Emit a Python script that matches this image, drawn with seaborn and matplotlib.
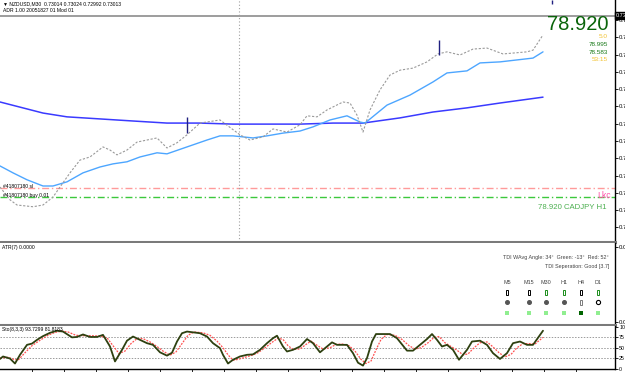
import matplotlib
matplotlib.use("Agg")
import matplotlib.pyplot as plt
import seaborn as sns
import pandas as pd
from matplotlib.patches import Rectangle

sns.set_style("white")
plt.rcParams['font.family'] = ['Liberation Sans', 'DejaVu Sans']

# ---------------- data (x in bar-position units, prices) -------------
slow_x = [0, 43, 67, 100, 133, 167, 200, 233, 267, 300, 333, 363, 400, 433, 467, 500, 543]
slow_p = [0.72763, 0.72731, 0.72720, 0.72714, 0.72708, 0.72702, 0.72702, 0.72699, 0.72699,
          0.72699, 0.72702, 0.72702, 0.72717, 0.72734, 0.72746, 0.72760, 0.72777]

fast_x = [0, 13, 27, 43, 53, 67, 83, 100, 113, 127, 140, 157, 167, 187, 207, 220, 233, 253,
          267, 283, 300, 313, 330, 347, 360, 365, 387, 410, 433, 447, 467, 480, 500, 533, 543]
fast_p = [0.72578, 0.72558, 0.72538, 0.72520, 0.72520, 0.72532, 0.72558, 0.72575, 0.72584,
          0.72590, 0.72604, 0.72616, 0.72613, 0.72633, 0.72653, 0.72665, 0.72665, 0.72659,
          0.72665, 0.72673, 0.72679, 0.72691, 0.72711, 0.72723, 0.72705, 0.72702, 0.72754,
          0.72783, 0.72821, 0.72847, 0.72853, 0.72876, 0.72879, 0.72890, 0.72908]

close_x = [0, 10, 17, 33, 43, 53, 60, 70, 80, 90, 103, 110, 117, 127, 137, 147, 157, 167, 177,
           187, 200, 220, 240, 250, 263, 273, 287, 300, 307, 317, 327, 343, 350, 357, 363, 370,
           380, 390, 400, 413, 427, 438, 447, 460, 473, 487, 503, 527, 533, 543]
close_p = [0.72517, 0.72480, 0.72465, 0.72460, 0.72465, 0.72488, 0.72517, 0.72558, 0.72595,
           0.72604, 0.72633, 0.72624, 0.72610, 0.72624, 0.72647, 0.72653, 0.72659, 0.72630,
           0.72645, 0.72668, 0.72702, 0.72711, 0.72668, 0.72653, 0.72662, 0.72685, 0.72676,
           0.72697, 0.72723, 0.72720, 0.72740, 0.72763, 0.72760, 0.72725, 0.72676, 0.72740,
           0.72798, 0.72841, 0.72855, 0.72861, 0.72879, 0.72902, 0.72908, 0.72899, 0.72916,
           0.72919, 0.72902, 0.72908, 0.72913, 0.72957]

current_price = 0.73013
sl_price = 0.72514
entry_price = 0.72487
arrow_x = [187, 439, 552]
arrow_lo = [0.72673, 0.72899, 0.73046]
arrow_hi = [0.72720, 0.72942, 0.73058]
vline_x = 239

price_ticks = [0.7300, 0.7295, 0.7290, 0.7285, 0.7280, 0.7275, 0.7270, 0.7265, 0.7260,
               0.7255, 0.7250, 0.7245, 0.7240]

sto_x = [0, 3, 10, 15, 20, 27, 32, 37, 43, 50, 57, 63, 72, 77, 83, 90, 97, 103, 110, 115, 122,
         127, 133, 140, 147, 153, 160, 167, 172, 177, 182, 187, 200, 207, 213, 220, 223, 228,
         233, 240, 247, 253, 260, 267, 273, 277, 283, 287, 293, 300, 307, 313, 320, 327, 332,
         337, 347, 353, 358, 363, 367, 372, 376, 390, 397, 407, 413, 420, 427, 432, 437, 442,
         447, 453, 459, 467, 472, 480, 487, 493, 500, 507, 513, 520, 527, 533, 543]
sto_main = [23, 29, 24, 12, 33, 57, 60, 69, 78, 86, 91, 89, 75, 76, 82, 76, 76, 81, 53, 17, 45,
            67, 77, 69, 61, 57, 39, 31, 38, 65, 85, 89, 85, 77, 61, 49, 33, 12, 21, 29, 33, 34,
            45, 61, 73, 79, 53, 41, 45, 53, 71, 61, 39, 53, 63, 57, 57, 37, 14, 7, 25, 65, 83,
            83, 73, 43, 43, 57, 71, 83, 69, 53, 57, 45, 21, 45, 65, 67, 57, 37, 23, 37, 61, 65,
            57, 57, 91]

sig_x = [0, 8, 14, 18, 25, 32, 40, 48, 55, 62, 68, 76, 84, 92, 100, 107, 113, 119, 125, 131,
         137, 143, 150, 157, 163, 170, 176, 182, 188, 194, 203, 210, 217, 223, 228, 233, 238,
         245, 252, 258, 265, 272, 278, 283, 288, 293, 300, 306, 311, 317, 323, 330, 336, 342,
         349, 355, 361, 366, 371, 376, 381, 387, 395, 402, 409, 415, 421, 428, 434, 439, 445,
         451, 457, 463, 468, 474, 480, 487, 493, 499, 505, 511, 517, 523, 529, 535, 543]
sig_val = [25, 27, 22, 20, 38, 55, 68, 80, 87, 90, 88, 80, 79, 79, 78, 74, 55, 36, 42, 60, 72,
           72, 64, 53, 42, 32, 40, 60, 80, 88, 86, 80, 66, 50, 33, 20, 22, 27, 32, 38, 50, 63,
           73, 70, 55, 46, 47, 58, 66, 56, 47, 50, 58, 59, 55, 42, 22, 12, 18, 45, 70, 82, 80,
           70, 55, 47, 50, 62, 75, 77, 62, 53, 44, 33, 35, 50, 62, 64, 52, 38, 28, 34, 50, 60,
           60, 59, 75]
sto_levels = [25, 50, 75]
sto_ticks = [0, 25, 50, 75, 100]

tf_labels = ["M5", "M15", "M30", "H1", "H4", "D1"]
tf_candle_col = ["#000000", "#000000", "#1a8c1a", "#1a8c1a", "#000000", "#1a8c1a"]
tf_square_col = ["#90ee90", "#90ee90", "#90ee90", "#90ee90", "#006400", "#90ee90"]

# ---------------- figure ----------------
W, H = 625, 372
fig = plt.figure(figsize=(W / 100, H / 100), dpi=100)


def fy(ypix):
    return 1 - ypix / H


right_px = 615
ax = fig.add_axes([0, fy(242), right_px / W, 242 / H])
ax_atr = fig.add_axes([0, fy(325), right_px / W, (325 - 243) / H])
ax_sto = fig.add_axes([0, fy(369), right_px / W, (369 - 326) / H])

for a in (ax, ax_atr, ax_sto):
    a.set_xlim(0, right_px)
    a.set_facecolor("white")
    for s in ("left", "top"):
        a.spines[s].set_visible(False)
    a.spines["right"].set_color("black")
    a.spines["right"].set_linewidth(1)
    a.yaxis.tick_right()
    a.tick_params(axis="y", length=2, width=0.6, labelsize=4.3, pad=1, colors="black")
    a.set_xticks([])
    a.set_xlabel("")
    a.set_ylabel("")

ax.spines["bottom"].set_color("#7a7a7a")
ax.spines["bottom"].set_linewidth(2.2)
ax_atr.spines["bottom"].set_color("#7a7a7a")
ax_atr.spines["bottom"].set_linewidth(2.2)
ax_sto.spines["bottom"].set_color("black")
ax_sto.spines["bottom"].set_linewidth(1)

# main panel
ax.set_ylim(0.72358, 0.73058)
ax.axhline(current_price, color="#8c8c8c", lw=1.2, zorder=1)
ax.axhline(sl_price, color="#ff9a9a", lw=1.0, ls=(0, (5, 2, 1, 2)), zorder=1)
ax.axhline(entry_price, color="#3cc83c", lw=1.0, ls=(0, (5, 2, 1, 2)), zorder=1)
ax.axvline(vline_x, color="#a0a0a0", lw=0.8, ls=(0, (1, 2)), zorder=1)

sns.lineplot(x=slow_x, y=slow_p, ax=ax, color="#3a3aff", lw=1.1, sort=False)
sns.lineplot(x=fast_x, y=fast_p, ax=ax, color="#4da6ff", lw=1.0, sort=False)
sns.lineplot(x=close_x, y=close_p, ax=ax, color="#9a9a9a", lw=0.8, sort=False,
             linestyle=(0, (2, 1.5)))
ax.vlines(arrow_x, arrow_lo, arrow_hi, color="#202080", lw=1.0)
ax.set_yticks(price_ticks)
ax.set_yticklabels([f"{t:.5f}" for t in price_ticks])

# top-left info text
fig.text(3 / W, fy(4), "▼ NZDUSD,M30  0.73014 0.73024 0.72992 0.73013", fontsize=3.6,
         va="center", ha="left", color="black")
fig.text(3 / W, fy(10), "ADR 1.00 20051827 01 Mod 01", fontsize=3.6, va="center",
         ha="left", color="black")

# order labels
fig.text(3 / W, fy(186), "#41807180 sl", fontsize=3.6, va="center", ha="left", color="black")
fig.text(3 / W, fy(195.5), "#41807180 buy 0.01", fontsize=3.6, va="center", ha="left",
         color="black")

# right-side info
fig.text(608 / W, fy(25), "78.920", fontsize=14.5, color="#0a640a", ha="right", va="center")
fig.text(608 / W, fy(36.5), "5.0", fontsize=4.6, color="#f2c230", ha="right", va="center")
fig.text(608 / W, fy(44), "78.995", fontsize=4.6, color="#1a7a1a", ha="right", va="center")
fig.text(608 / W, fy(52), "78.583", fontsize=4.6, color="#1a7a1a", ha="right", va="center")
fig.text(608 / W, fy(59.5), "53:15", fontsize=4.6, color="#f2c230", ha="right", va="center")
fig.text(611 / W, fy(196), "Lkc", fontsize=6.2, color="#ff4da6", ha="right", va="center")
fig.text(607 / W, fy(208), "78.920 CADJPY H1", fontsize=5.6, color="#4caf50", ha="right",
         va="center")
fig.text(616 / W, fy(15.5), "0.73013", fontsize=4.0, color="white", ha="left", va="center",
         bbox=dict(boxstyle="square,pad=0.15", fc="black", ec="black"))

# ATR panel
ax_atr.set_ylim(325, 243)
ax_atr.set_yticks([247, 322])
ax_atr.set_yticklabels(["0.00", "0.00"])
fig.text(2 / W, fy(248), "ATR(7) 0.0000", fontsize=3.6, ha="left", va="center", color="black")
fig.text(609 / W, fy(257), "TDI WAvg Angle: 34°  Green: -13°  Red: 52°", fontsize=3.9,
         ha="right", va="center", color="#444444")
fig.text(609 / W, fy(266.5), "TDI Seperation: Good [3.7]", fontsize=3.9, ha="right",
         va="center", color="#444444")
tf_x = [507, 529, 546, 564, 581, 598]
for i, lab in enumerate(tf_labels):
    x = tf_x[i]
    fig.text(x / W, fy(283), lab, fontsize=3.9, ha="center", va="center", color="#444444")
    ax_atr.add_patch(Rectangle((x - 1.2, 289.5), 2.4, 5, fill=False, ec=tf_candle_col[i],
                               lw=0.7))
    if i < 4:
        ax_atr.plot([x], [302], marker="o", ms=2.6, color="#555555", mec="#555555")
    elif i == 4:
        ax_atr.add_patch(Rectangle((x - 1.2, 299.5), 2.4, 5, fill=False, ec="#666666",
                                   lw=0.6))
    else:
        ax_atr.plot([x], [302], marker="o", ms=3.0, mfc="white", mec="black", mew=0.8)
    ax_atr.add_patch(Rectangle((x - 2, 311), 4, 4, color=tf_square_col[i], lw=0))

# Stochastic panel
ax_sto.set_ylim(-1.2, 102.4)
for lv in sto_levels:
    ax_sto.axhline(lv, color="#9a9a9a", lw=0.7, ls=(0, (1.5, 1.5)), zorder=1)
sns.lineplot(x=sig_x, y=sig_val, ax=ax_sto, color="#ff5050", lw=0.9, sort=False,
             linestyle=(0, (1.5, 1)))
sns.lineplot(x=sto_x, y=sto_main, ax=ax_sto, color="#2e4010", lw=1.3, sort=False)
ax_sto.set_yticks(sto_ticks)
ax_sto.set_yticklabels([str(t) for t in sto_ticks])
ax_sto.tick_params(axis="y", labelsize=3.8)
ax_sto.set_xticks(list(range(32, 600, 32)))
ax_sto.set_xticklabels([])
ax_sto.tick_params(axis="x", length=3, width=0.6, direction="out", bottom=True,
                   colors="black")
ax_sto.set_xlim(0, right_px)
ax_sto.set_xlabel("")
fig.text(2 / W, fy(330), "Sto(8,3,3) 93.7299 81.8183", fontsize=3.6, ha="left",
         va="center", color="black")

fig.savefig("out.png", dpi=100)
